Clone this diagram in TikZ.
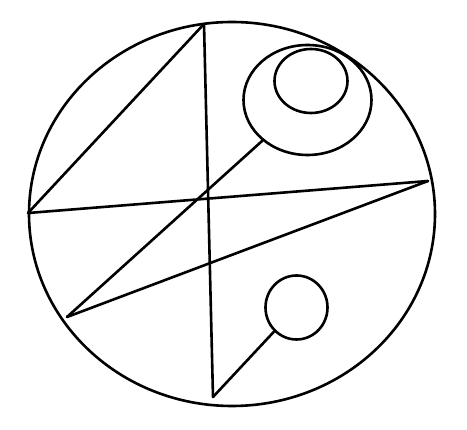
\documentclass[tikz,border=0pt]{standalone}
\usetikzlibrary{shapes.geometric}
\begin{document}
\begin{tikzpicture}[x=1pt,y=-1pt,
  ln/.style={line width=2.6pt,line cap=round,line join=round},
  ell/.style={ellipse,draw,line width=2.6pt,inner sep=0pt}]
\useasboundingbox (0,0) rectangle (467,430);
\fill[white] (0,0) rectangle (467,430);
% outer circle
\node[ell,minimum width=406pt,minimum height=384pt] (outer) at (232,214) {};
% vertices
\coordinate (T) at (204,24);
\coordinate (L) at (28,213);
\coordinate (R) at (428,181);
\coordinate (BL) at (67,317);
\coordinate (B) at (213,397);
% loops
\node[ell,minimum width=128pt,minimum height=110pt] (big) at (307.5,100) {};
\node[ell,minimum width=73pt,minimum height=64pt] (inner) at (311,81) {};
\node[ell,minimum width=62pt,minimum height=64pt] (small) at (296.5,307.5) {};
% lines
\draw[ln] (T) -- (L);
\draw[ln] (T) -- (B);
\draw[ln] (L) -- (R);
\draw[ln] (R) -- (BL);
\draw[ln] (BL) -- (big);
\draw[ln] (B) -- (small);
\end{tikzpicture}
\end{document}
